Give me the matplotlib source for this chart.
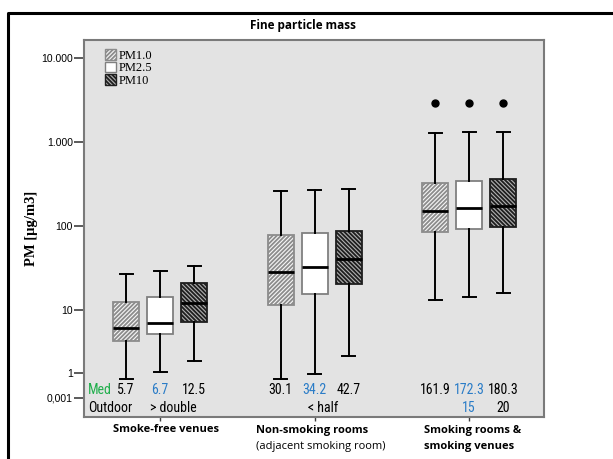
import matplotlib
matplotlib.use('Agg')
import matplotlib.pyplot as plt
from matplotlib.lines import Line2D
from matplotlib.patches import Patch
from matplotlib.ticker import NullLocator

# --- data ---
groups = ['Smoke-free venues', 'Non-smoking rooms', 'Smoking rooms &']
group_sub = ['', '(adjacent smoking room)', 'smoking venues']
pollutants = ['PM1.0', 'PM2.5', 'PM10']

whislo = {'PM1.0': [1.52, 1.52, 13.0], 'PM2.5': [1.81, 1.72, 14.4], 'PM10': [2.45, 2.81, 15.8]}
q1 = {'PM1.0': [4.28, 11.4, 85.5], 'PM2.5': [5.18, 15.5, 92.1], 'PM10': [7.2, 20.6, 96.6]}
med = {'PM1.0': [6.05, 28.6, 152], 'PM2.5': [7.06, 32.5, 162.5], 'PM10': [12.2, 40.5, 173]}
q3 = {'PM1.0': [12.6, 77.5, 328], 'PM2.5': [14.3, 81.8, 346], 'PM10': [21.1, 87.2, 363]}
whishi = {'PM1.0': [26.6, 263, 1291], 'PM2.5': [29.4, 270, 1327], 'PM10': [33.4, 273, 1315]}
fliers = {'PM1.0': [[], [], [2890]], 'PM2.5': [[], [], [2890]], 'PM10': [[], [], [2890]]}

med_labels = {'PM1.0': ['5.7', '30.1', '161.9'],
              'PM2.5': ['6.7', '34.2', '172.3'],
              'PM10': ['12.5', '42.7', '180.3']}
n_labels = {'PM2.5': '15', 'PM10': '20'}

ytick_vals = [0.896, 1.80, 10, 100, 1000, 10000]
ytick_labels = ['0,001', '1', '10', '100', '1.000', '10.000']

# --- styles ---
offsets = {'PM1.0': -0.22, 'PM2.5': 0.0, 'PM10': 0.22}
face = {'PM1.0': '#f6f6f6', 'PM2.5': 'white', 'PM10': '#b0b0b0'}
edge = {'PM1.0': '#8c8c8c', 'PM2.5': '#808080', 'PM10': '#1e1e1e'}
hatch = {'PM1.0': '////////', 'PM2.5': '', 'PM10': '\\\\\\\\\\\\\\\\'}
label_color = {'PM1.0': 'black', 'PM2.5': '#2a7cc7', 'PM10': 'black'}

plt.rcParams['hatch.linewidth'] = 1.3
narrow = ['Roboto Condensed', 'Roboto', 'DejaVu Sans']
calibri = ['Open Sans', 'DejaVu Sans']
fs_ann = 10

fig = plt.figure(figsize=(6.13, 4.59), dpi=100)
ax = fig.add_axes([84 / 613, 42 / 459, 460 / 613, 377 / 459])
ax.set_facecolor('#e3e3e3')

for p in pollutants:
    stats = []
    for i in range(len(groups)):
        stats.append({'whislo': whislo[p][i], 'q1': q1[p][i], 'med': med[p][i],
                      'q3': q3[p][i], 'whishi': whishi[p][i], 'fliers': fliers[p][i]})
    pos = [i + offsets[p] for i in range(len(groups))]
    ax.bxp(stats, positions=pos, widths=0.168, patch_artist=True, manage_ticks=False,
           boxprops=dict(facecolor=face[p], edgecolor=edge[p], linewidth=1.3, hatch=hatch[p]),
           medianprops=dict(color='black', linewidth=2.0),
           whiskerprops=dict(color='black', linewidth=1.4),
           capprops=dict(color='black', linewidth=1.4),
           flierprops=dict(marker='o', markerfacecolor='black', markeredgecolor='black',
                           markersize=5))
    # median / count annotations
    for i, x in enumerate(pos):
        ax.text(x, 0.072, med_labels[p][i], transform=ax.get_xaxis_transform(),
                ha='center', va='center', fontsize=fs_ann, color=label_color[p], family=narrow)
    if p in n_labels:
        ax.text(pos[2], 0.024, n_labels[p], transform=ax.get_xaxis_transform(),
                ha='center', va='center', fontsize=fs_ann, color=label_color[p], family=narrow)

ax.text(0.008, 0.072, 'Med', transform=ax.transAxes, ha='left', va='center',
        fontsize=fs_ann, color='#1fae4b', family=narrow)
ax.text(0.008, 0.024, 'Outdoor', transform=ax.transAxes, ha='left', va='center',
        fontsize=fs_ann, family=narrow)
ax.text(-0.065, 0.024, '> double', transform=ax.get_xaxis_transform(), ha='left', va='center',
        fontsize=fs_ann, family=narrow)
ax.text(0.96, 0.024, '< half', transform=ax.get_xaxis_transform(), ha='left', va='center',
        fontsize=fs_ann, family=narrow)

ax.set_yscale('log')
ax.set_ylim(10 ** -0.274, 10 ** 4.214)
ax.set_xlim(-0.492, 2.485)
ax.yaxis.set_minor_locator(NullLocator())
ax.set_yticks(ytick_vals, ytick_labels, fontsize=7.5, family=['Liberation Sans', 'DejaVu Sans'])
ax.set_xticks(range(len(groups)), [''] * len(groups))
ax.tick_params(axis='y', length=7, width=1.2, color='#404040', pad=1)
ax.tick_params(axis='x', length=3, width=1.0, color='#404040')
for s in ax.spines.values():
    s.set_color('#7a7a7a')
    s.set_linewidth(1.5)

ax.set_ylabel('PM [µg/m3]', fontsize=10.5, fontweight='bold',
              family=['Liberation Serif', 'DejaVu Serif'], labelpad=2)

handles = [Patch(facecolor=face[p], edgecolor=edge[p], hatch=hatch[p], linewidth=1.0)
           for p in pollutants]
ax.legend(handles, pollutants, loc='upper left', bbox_to_anchor=(0.046, 0.975),
          frameon=False, handlelength=0.9, handleheight=0.9, handletextpad=0.15,
          labelspacing=0.0, borderpad=0, borderaxespad=0,
          prop={'family': ['Liberation Serif', 'DejaVu Serif'], 'size': 9})

# group labels under the axes
gx = [113, 256, 424]
for i in range(len(groups)):
    fig.text(gx[i] / 613, 1 - 430 / 459, groups[i], ha='left', va='center',
             fontsize=8, fontweight='bold', family=calibri)
fig.text(gx[1] / 613, 1 - 447 / 459, group_sub[1], ha='left', va='center',
         fontsize=8, family=calibri)
fig.text(gx[2] / 613, 1 - 447 / 459, group_sub[2], ha='left', va='center',
         fontsize=8, fontweight='bold', family=calibri)

fig.text(303 / 613, 1 - 25 / 459, 'Fine particle mass', ha='center', va='center',
         fontsize=8.5, fontweight='bold', family=calibri)

# outer frame (open to the right and bottom)
fig.add_artist(Line2D([8 / 613, 8 / 613, 1.01], [-0.01, 1 - 13 / 459, 1 - 13 / 459],
                      transform=fig.transFigure, color='black', linewidth=2.2))

fig.savefig('out.png', dpi=100)
